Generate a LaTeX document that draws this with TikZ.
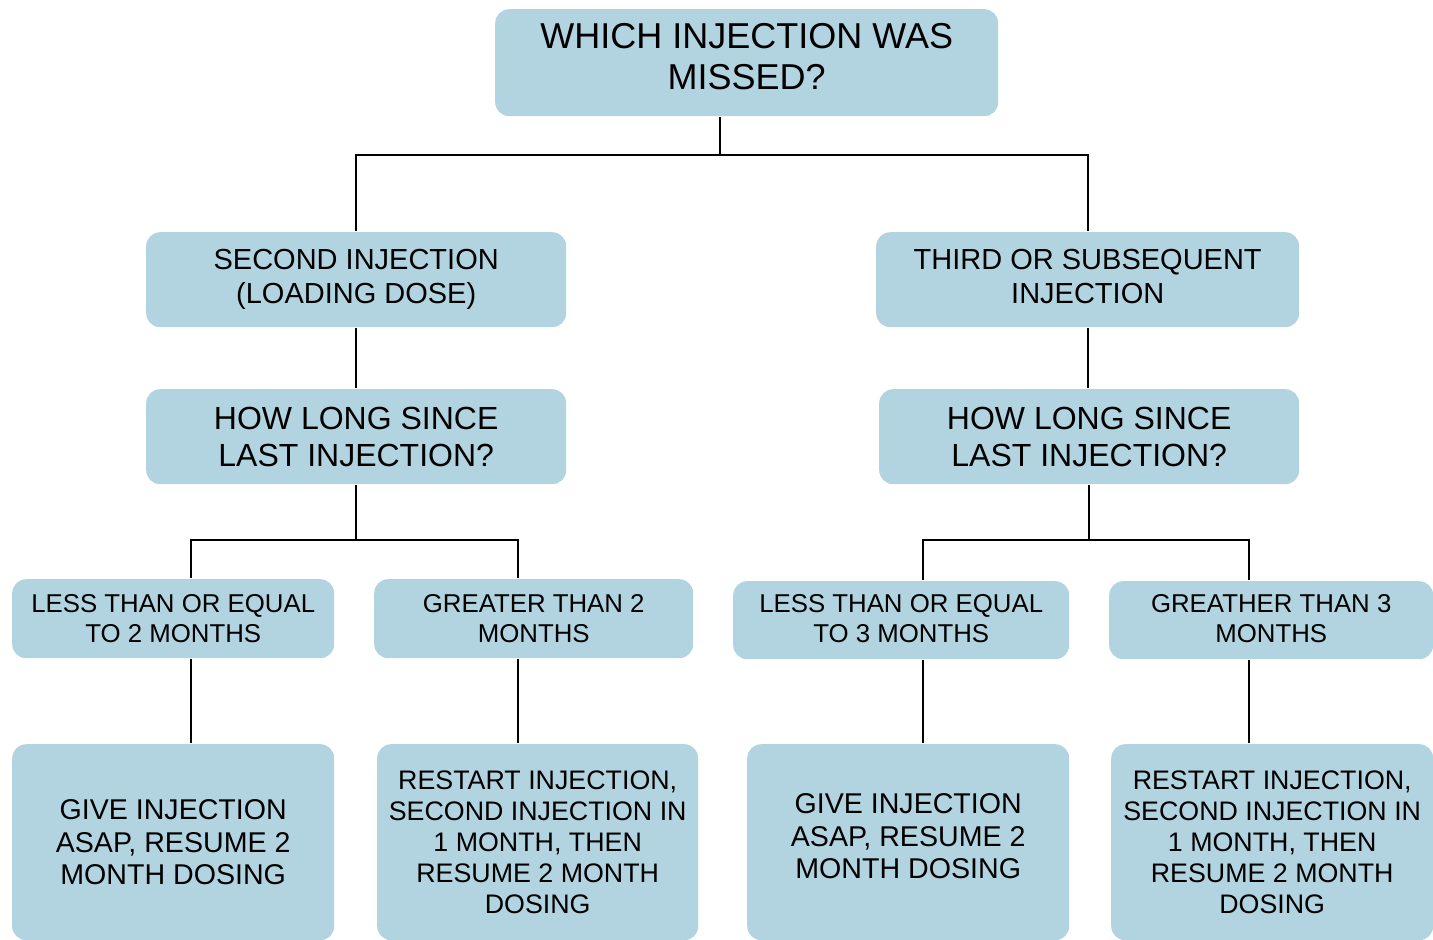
\documentclass[tikz,border=0pt]{standalone}
\usepackage{fontspec}
\setmainfont{Liberation Sans}
\usepackage{xcolor}
\usepackage{tikz}

\definecolor{boxblue}{RGB}{178,212,224}

\begin{document}
\begin{tikzpicture}[x=0.5pt, y=-0.5pt, line width=1.2pt,
    box/.style={fill=boxblue, rounded corners=7pt, align=center, anchor=north west, inner sep=0pt},
    bigtxt/.style={font=\fontsize{18}{20.5}\selectfont},
    midtxt/.style={font=\fontsize{14.5}{17}\selectfont},
    howtxt/.style={font=\fontsize{16}{18.5}\selectfont},
    smalltxt/.style={font=\fontsize{12.9}{15}\selectfont},
    givetxt/.style={font=\fontsize{14.3}{16.25}\selectfont},
    endtxt/.style={font=\fontsize{13.4}{15.5}\selectfont}]
            \useasboundingbox (0,0) rectangle (1433,940);
            \clip (0,0) rectangle (1433,940);

            % Nodes
            \node[box, bigtxt, text depth=6pt, minimum width=251.5pt, minimum height=53.5pt] (top) at (494,8) {WHICH INJECTION WAS\\MISSED?};
            \node[box, midtxt, minimum width=210pt, minimum height=47.5pt] (sec) at (145,231) {SECOND INJECTION\\(LOADING DOSE)};
            \node[box, midtxt, text depth=3pt, minimum width=211.5pt, minimum height=47.5pt] (third) at (875,231) {THIRD OR SUBSEQUENT\\INJECTION};
            \node[box, howtxt, minimum width=210pt, minimum height=47.5pt] (howl) at (145,388) {HOW LONG SINCE\\LAST INJECTION?};
            \node[box, howtxt, minimum width=210pt, minimum height=47.5pt] (howr) at (878,388) {HOW LONG SINCE\\LAST INJECTION?};

            \node[box, smalltxt, minimum width=161pt, minimum height=39.5pt] (lea) at (11,578) {LESS THAN OR EQUAL\\TO 2 MONTHS};
            \node[box, smalltxt, minimum width=159.5pt, minimum height=39.5pt] (gta) at (373,578) {GREATER THAN 2\\MONTHS};
            \node[box, smalltxt, text depth=2pt, minimum width=168pt, minimum height=39pt] (leb) at (732,580) {LESS THAN OR EQUAL\\TO 3 MONTHS};
            \node[box, smalltxt, text depth=2pt, minimum width=162pt, minimum height=39pt] (gtb) at (1108,580) {GREATHER THAN 3\\MONTHS};

            \node[box, givetxt, minimum width=161pt, minimum height=98pt] (giva) at (11,743) {GIVE INJECTION\\ASAP, RESUME 2\\MONTH DOSING};
            \node[box, endtxt, minimum width=160.5pt, minimum height=98pt] (resa) at (376,743) {RESTART INJECTION,\\SECOND INJECTION IN\\1 MONTH, THEN\\RESUME 2 MONTH\\DOSING};
            \node[box, givetxt, text depth=6pt, minimum width=161pt, minimum height=98pt] (givb) at (746,743) {GIVE INJECTION\\ASAP, RESUME 2\\MONTH DOSING};
            \node[box, endtxt, minimum width=161pt, minimum height=98pt] (resb) at (1110,743) {RESTART INJECTION,\\SECOND INJECTION IN\\1 MONTH, THEN\\RESUME 2 MONTH\\DOSING};

            % Junctions
            \coordinate (ja) at (720,155);
            \coordinate (ka) at (191,540);
            \coordinate (kb) at (518,540);
            \coordinate (kc) at (923,540);
            \coordinate (kd) at (1249,540);

            % Lines
            \draw (top.south -| ja) -- (ja);
            \draw (sec.north) -- (sec.north |- ja) -- (third.north |- ja) -- (third.north);
            \draw (sec.south) -- (howl.north);
            \draw (third.south) -- (third.south |- howr.north);
            \draw (howl.south) -- (howl.south |- ka);
            \draw (howr.south) -- (howr.south |- kc);
            \draw (ka |- lea.north) -- (ka) -- (kb) -- (kb |- gta.north);
            \draw (kc |- leb.north) -- (kc) -- (kd) -- (kd |- gtb.north);
            \draw (ka |- lea.south) -- (ka |- giva.north);
            \draw (kb |- gta.south) -- (kb |- resa.north);
            \draw (kc |- leb.south) -- (kc |- givb.north);
            \draw (kd |- gtb.south) -- (kd |- resb.north);
\end{tikzpicture}
\end{document}
